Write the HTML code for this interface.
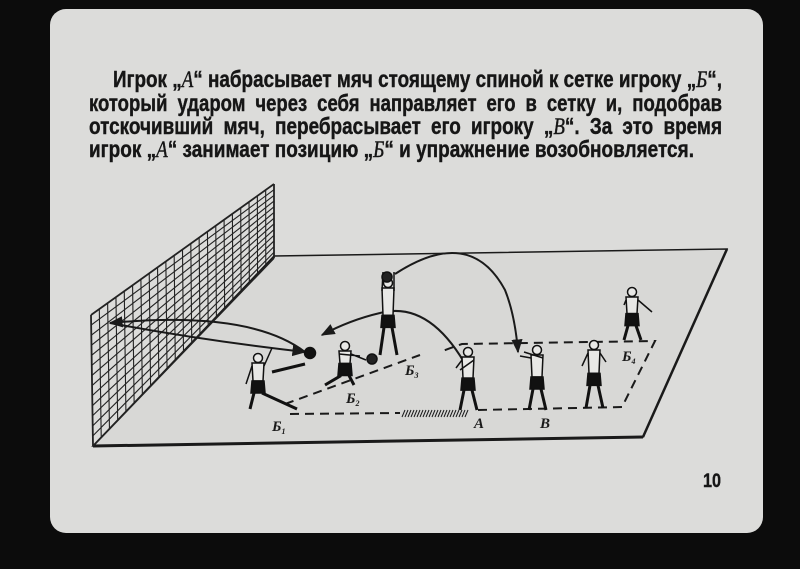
<!DOCTYPE html>
<html><head><meta charset="utf-8">
<style>
html,body{margin:0;padding:0;background:#0c0c0c;}
body{width:800px;height:569px;overflow:hidden;position:relative;}
svg{position:absolute;left:0;top:0;}
</style></head>
<body>
<svg id="s" width="800" height="569" viewBox="0 0 800 569" xmlns="http://www.w3.org/2000/svg">
<defs>
<marker id="ar" viewBox="0 0 10 10" refX="9" refY="5" markerWidth="7" markerHeight="7" orient="auto-start-reverse">
<path d="M0,1 L10,5 L0,9 z" fill="#1a1a1a"/></marker>
</defs>
<rect x="0" y="0" width="800" height="569" fill="#0c0c0c"/>
<rect x="50" y="9" width="713" height="524" rx="16" fill="#dcdcda"/>
<g font-family="'Liberation Sans','DejaVu Sans',sans-serif" font-weight="bold" font-size="23" fill="#161616" stroke="#161616" stroke-width="0.4">
<text x="113" y="87" textLength="609" lengthAdjust="spacingAndGlyphs">Игрок „<tspan font-family="'Liberation Serif',serif" font-style="italic" font-weight="normal">А</tspan>“ набрасывает мяч стоящему спиной к сетке игроку „<tspan font-family="'Liberation Serif',serif" font-style="italic" font-weight="normal">Б</tspan>“,</text>
<text x="89" y="111" textLength="633" lengthAdjust="spacingAndGlyphs" word-spacing="6">который ударом через себя направляет его в сетку и, подобрав</text>
<text x="89" y="134" textLength="633" lengthAdjust="spacingAndGlyphs" word-spacing="6">отскочивший мяч, перебрасывает его игроку „<tspan font-family="'Liberation Serif',serif" font-style="italic" font-weight="normal">В</tspan>“. За это время</text>
<text x="89" y="157" textLength="605" lengthAdjust="spacingAndGlyphs">игрок „<tspan font-family="'Liberation Serif',serif" font-style="italic" font-weight="normal">А</tspan>“ занимает позицию „<tspan font-family="'Liberation Serif',serif" font-style="italic" font-weight="normal">Б</tspan>“ и упражнение возобновляется.</text>
<text x="703" y="487" font-size="19" textLength="18" lengthAdjust="spacingAndGlyphs">10</text>
</g>
<!-- floor -->
<polygon points="274,256 727,249 643,437 93,446" fill="#d8d8d6" stroke="#1a1a1a" stroke-width="1.5"/>
<line x1="93" y1="446" x2="643" y2="437" stroke="#1a1a1a" stroke-width="3"/>
<line x1="727" y1="249" x2="643" y2="437" stroke="#1a1a1a" stroke-width="2.5"/>
<!-- net -->
<g id="net" stroke="#222" stroke-width="1.1" fill="none"></g>
<!-- dashed path -->
<g stroke="#1a1a1a" stroke-width="2" fill="none" stroke-dasharray="9,6">
<path d="M290,414 L400,413"/>
<path d="M478,410 L622,407 L655,341 L462,344 Q450,348 440,352"/>
<path d="M285,404 L420,355"/>
</g>
<g id="hatch" stroke="#1a1a1a" stroke-width="1"></g>
<!-- trajectories -->
<g stroke="#1a1a1a" stroke-width="2" fill="none">
<path d="M305,352 Q250,310 110,323" marker-end="url(#ar)"/>
<path d="M110,323 Q200,340 305,352" marker-end="url(#ar)"/>
<path d="M468,369 Q430,300 380,313 Q350,320 322,335" marker-end="url(#ar)"/>
<path d="M395,274 Q470,225 505,290 Q515,315 518,352" marker-end="url(#ar)"/>
</g>
<!-- figures -->
<g id="figs" stroke="#111" stroke-width="1.5" fill="#e8e8e6"></g>
<!-- labels -->
<g font-family="'Liberation Serif',serif" font-style="italic" font-weight="bold" font-size="15" fill="#1a1a1a">
<text x="272" y="431">Б<tspan font-size="8" dy="3">1</tspan></text>
<text x="346" y="403">Б<tspan font-size="8" dy="3">2</tspan></text>
<text x="405" y="375">Б<tspan font-size="8" dy="3">3</tspan></text>
<text x="474" y="428">А</text>
<text x="540" y="428">В</text>
<text x="622" y="361">Б<tspan font-size="8" dy="3">4</tspan></text>
</g>
</svg>
<script>
var NS="http://www.w3.org/2000/svg";
function L(g,x1,y1,x2,y2,w){var l=document.createElementNS(NS,"line");l.setAttribute("x1",x1);l.setAttribute("y1",y1);l.setAttribute("x2",x2);l.setAttribute("y2",y2);if(w)l.setAttribute("stroke-width",w);g.appendChild(l);}
var net=document.getElementById("net");
var TL=[91,315],TR=[274,184],BL=[93,446],BR=[274,258];
function lp(a,b,t){return [a[0]+(b[0]-a[0])*t,a[1]+(b[1]-a[1])*t];}
var NV=22,NH=13;
for(var i=0;i<=NV;i++){var t=i/NV,a=lp(TL,TR,t),b=lp(BL,BR,t);L(net,a[0],a[1],b[0],b[1],(i==0||i==NV)?1.8:1.1);}
for(var j=0;j<=NH;j++){var s=j/NH,a=lp(TL,BL,s),b=lp(TR,BR,s);L(net,a[0],a[1],b[0],b[1],(j==0||j==NH)?1.8:1.1);}
var h=document.getElementById("hatch");
for(var x=402;x<466;x+=3){L(h,x,417,x+3,410,1);}
var F=document.getElementById("figs");
function el(tag,attrs){var e=document.createElementNS(NS,tag);for(var k in attrs)e.setAttribute(k,attrs[k]);F.appendChild(e);return e;}
function fig(hx,hy,fy,opt){
 opt=opt||{};
 var sh=hy+(fy-hy)*0.45;
 el("circle",{cx:hx,cy:hy,r:4.5});
 el("path",{d:"M"+(hx-6)+","+(hy+5)+" L"+(hx+6)+","+(hy+5)+" L"+(hx+5)+","+sh+" L"+(hx-5)+","+sh+" Z"});
 el("path",{d:"M"+(hx-6)+","+sh+" L"+(hx+6)+","+sh+" L"+(hx+7)+","+(sh+12)+" L"+(hx-7)+","+(sh+12)+" Z",fill:"#111"});
 el("path",{d:"M"+(hx-4)+","+(sh+12)+" L"+(hx-8+(opt.lx||0))+","+fy+" M"+(hx+4)+","+(sh+12)+" L"+(hx+9+(opt.rx||0))+","+fy,fill:"none","stroke-width":3});
 el("path",{d:"M"+(hx-6)+","+(hy+8)+" L"+(opt.ax1||hx-14)+","+(opt.ay1||hy+17)+" M"+(hx+6)+","+(hy+8)+" L"+(opt.ax2||hx+14)+","+(opt.ay2||hy+17),fill:"none"});
}
fig(258,358,409,{ax1:246,ay1:384,ax2:272,ay2:348,rx:30});
el("path",{d:"M272,372 L305,364",fill:"none","stroke-width":3});
fig(345,346,385,{lx:-12,ax1:360,ay1:356,ax2:366,ay2:360});
fig(388,283,355,{ax1:383,ay1:272,ax2:394,ay2:272});
fig(468,352,410,{ax1:456,ay1:368,ax2:460,ay2:370});
fig(537,350,410,{ax1:520,ay1:356,ax2:524,ay2:352});
fig(594,345,408,{ax1:582,ay1:366,ax2:606,ay2:362});
fig(632,292,340,{ax1:624,ay1:305,ax2:652,ay2:312});
el("circle",{cx:310,cy:353,r:5.5,fill:"#111"});
el("circle",{cx:372,cy:359,r:5,fill:"#222"});
el("circle",{cx:387,cy:277,r:5,fill:"#222"});
</script>
</body></html>
